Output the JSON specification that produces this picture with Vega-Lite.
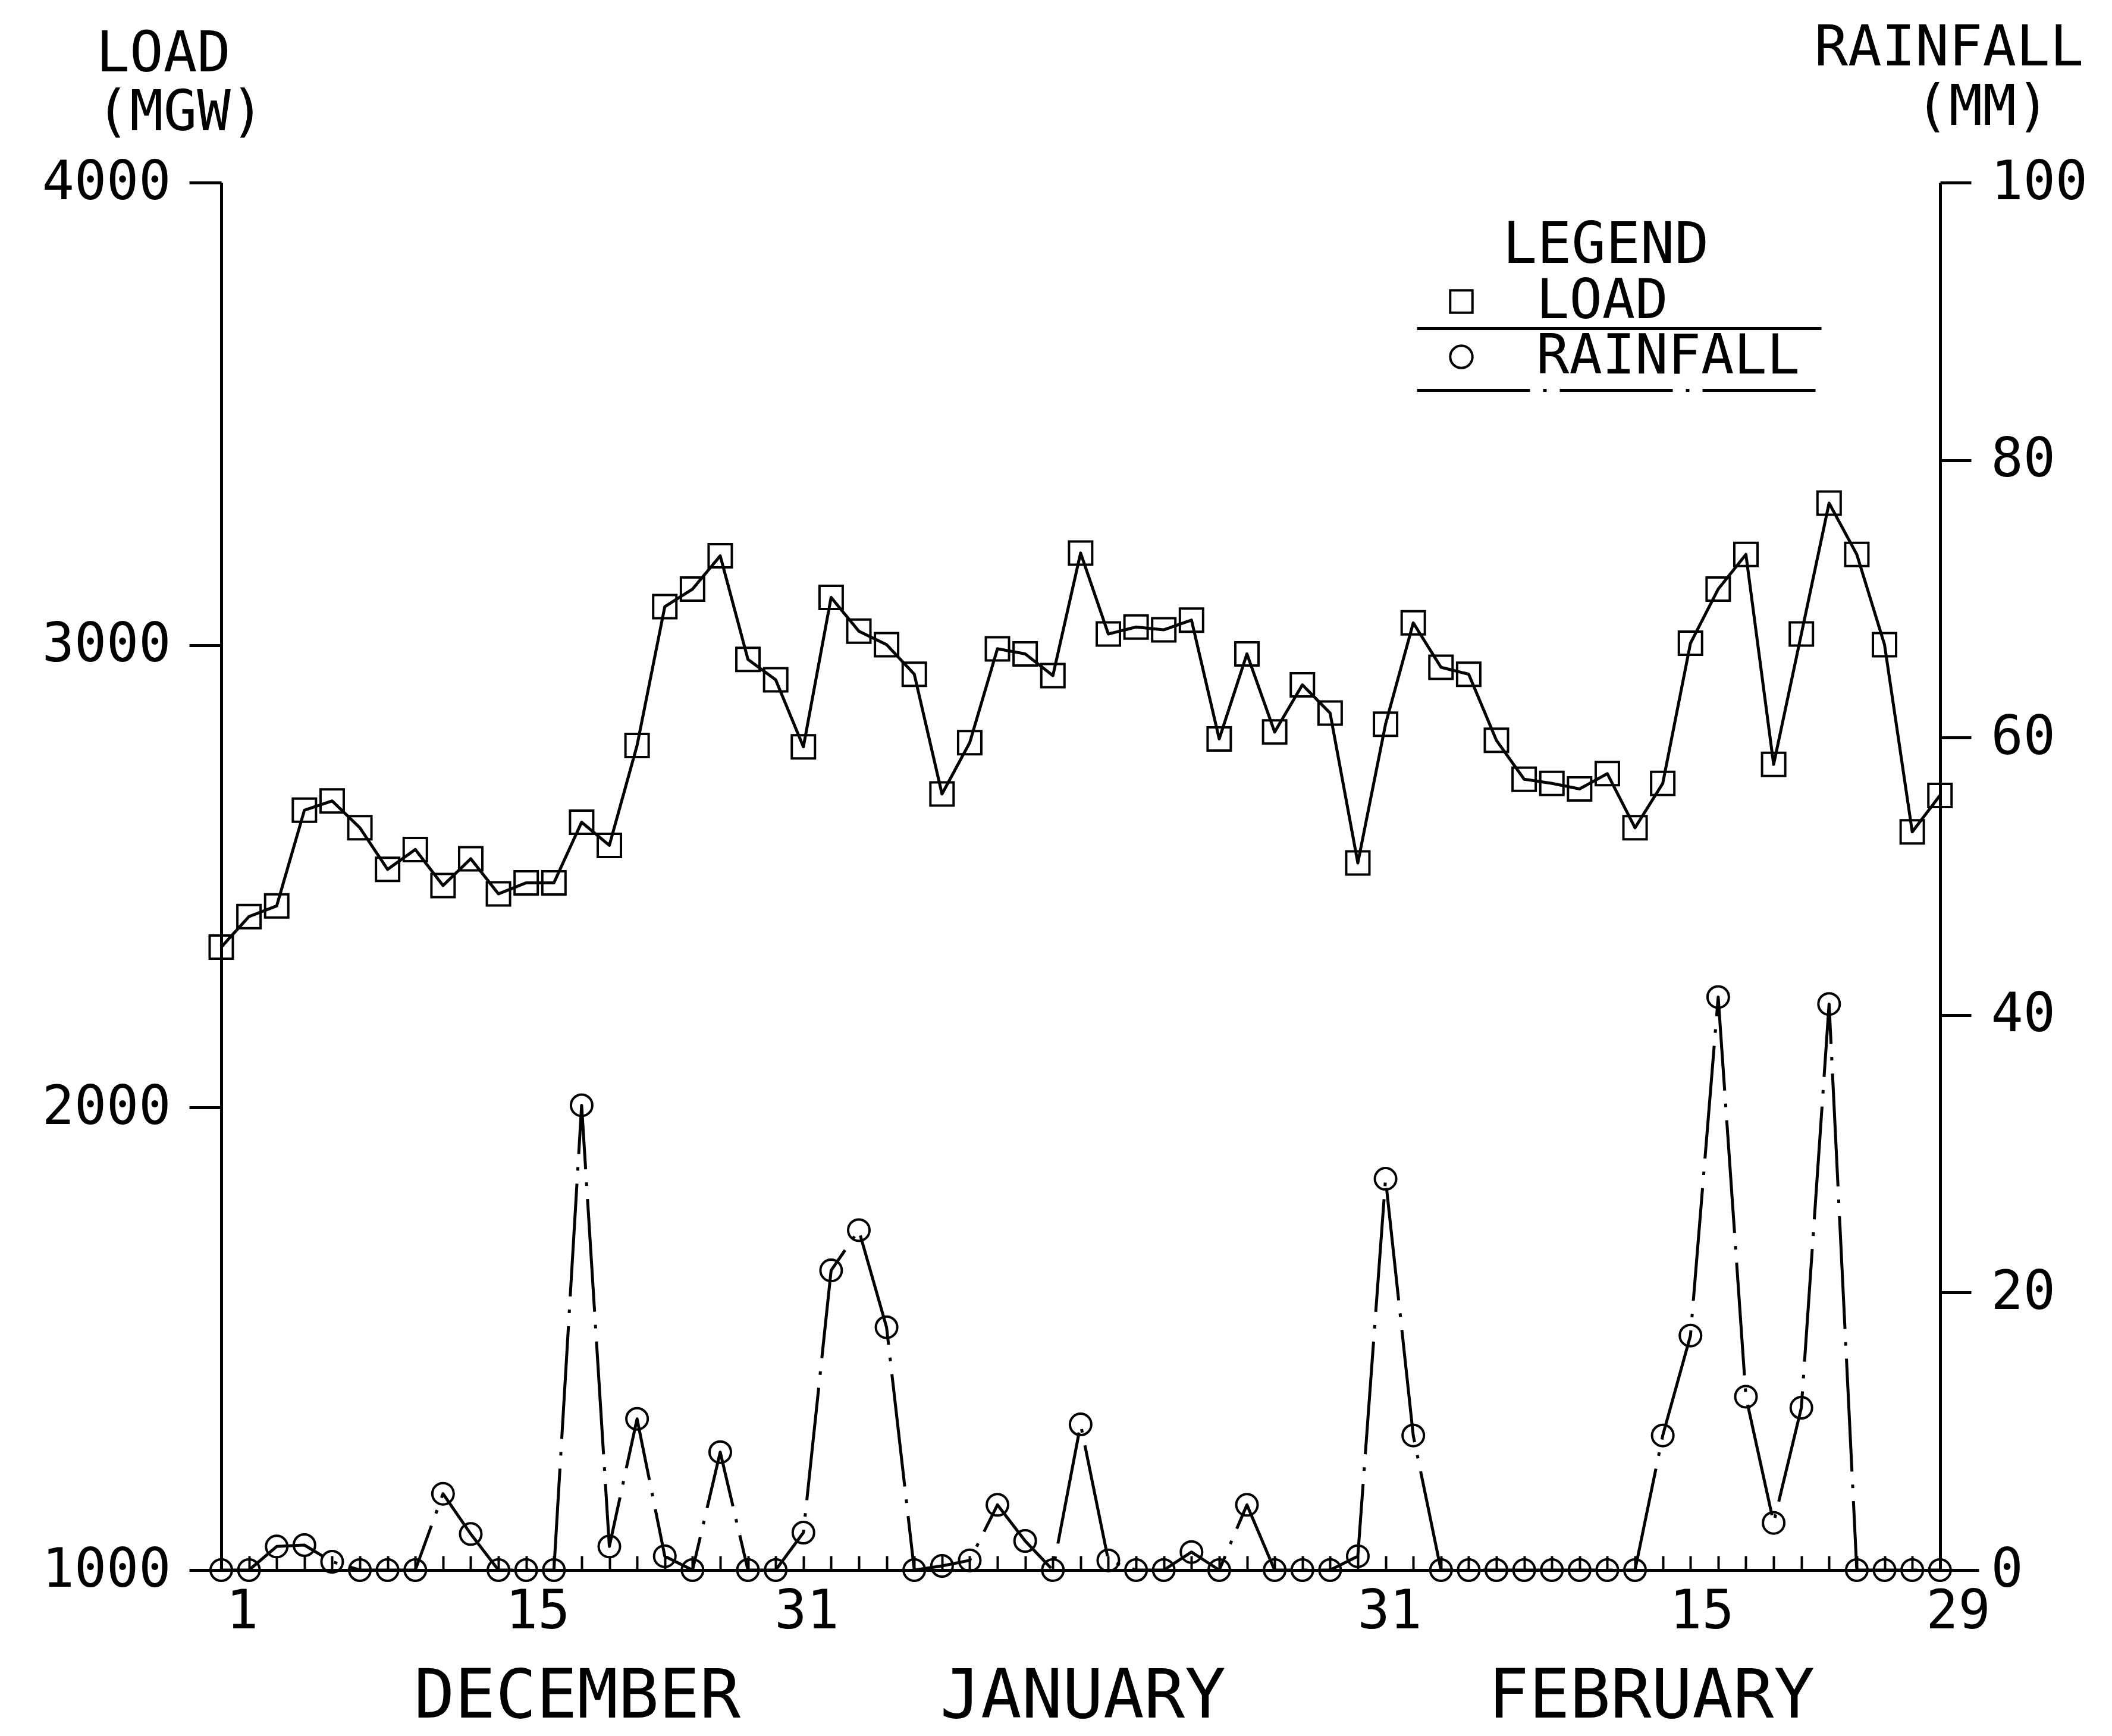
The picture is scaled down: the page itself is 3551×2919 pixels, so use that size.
{
  "$schema": "https://vega.github.io/schema/vega-lite/v6.json",
  "autosize": {"type": "none"},
  "padding": {"left": 372, "top": 307, "right": 224, "bottom": 279},
  "width": 2955,
  "height": 2333,
  "background": "white",
  "data": {"values": [
    {"day": 0, "load": 2347, "rain": 0},
    {"day": 1, "load": 2413, "rain": 0},
    {"day": 2, "load": 2436, "rain": 1.7},
    {"day": 3, "load": 2643, "rain": 1.8},
    {"day": 4, "load": 2663, "rain": 0.6},
    {"day": 5, "load": 2605, "rain": 0},
    {"day": 6, "load": 2515, "rain": 0},
    {"day": 7, "load": 2558, "rain": 0},
    {"day": 8, "load": 2480, "rain": 5.5},
    {"day": 9, "load": 2538, "rain": 2.6},
    {"day": 10, "load": 2462, "rain": 0},
    {"day": 11, "load": 2486, "rain": 0},
    {"day": 12, "load": 2486, "rain": 0},
    {"day": 13, "load": 2617, "rain": 33.5},
    {"day": 14, "load": 2567, "rain": 1.7},
    {"day": 15, "load": 2783, "rain": 10.9},
    {"day": 16, "load": 3083, "rain": 1.0},
    {"day": 17, "load": 3121, "rain": 0},
    {"day": 18, "load": 3193, "rain": 8.5},
    {"day": 19, "load": 2969, "rain": 0},
    {"day": 20, "load": 2925, "rain": 0},
    {"day": 21, "load": 2780, "rain": 2.7},
    {"day": 22, "load": 3103, "rain": 21.6},
    {"day": 23, "load": 3030, "rain": 24.5},
    {"day": 24, "load": 3001, "rain": 17.5},
    {"day": 25, "load": 2937, "rain": 0},
    {"day": 26, "load": 2678, "rain": 0.3},
    {"day": 27, "load": 2789, "rain": 0.7},
    {"day": 28, "load": 2992, "rain": 4.7},
    {"day": 29, "load": 2981, "rain": 2.1},
    {"day": 30, "load": 2934, "rain": 0},
    {"day": 31, "load": 3199, "rain": 10.5},
    {"day": 32, "load": 3024, "rain": 0.7},
    {"day": 33, "load": 3039, "rain": 0},
    {"day": 34, "load": 3033, "rain": 0},
    {"day": 35, "load": 3054, "rain": 1.3},
    {"day": 36, "load": 2797, "rain": 0},
    {"day": 37, "load": 2981, "rain": 4.7},
    {"day": 38, "load": 2812, "rain": 0},
    {"day": 39, "load": 2914, "rain": 0},
    {"day": 40, "load": 2853, "rain": 0},
    {"day": 41, "load": 2529, "rain": 1.0},
    {"day": 42, "load": 2829, "rain": 28.2},
    {"day": 43, "load": 3048, "rain": 9.7},
    {"day": 44, "load": 2952, "rain": 0},
    {"day": 45, "load": 2937, "rain": 0},
    {"day": 46, "load": 2794, "rain": 0},
    {"day": 47, "load": 2710, "rain": 0},
    {"day": 48, "load": 2701, "rain": 0},
    {"day": 49, "load": 2689, "rain": 0},
    {"day": 50, "load": 2722, "rain": 0},
    {"day": 51, "load": 2605, "rain": 0},
    {"day": 52, "load": 2701, "rain": 9.7},
    {"day": 53, "load": 3004, "rain": 16.9},
    {"day": 54, "load": 3121, "rain": 41.3},
    {"day": 55, "load": 3196, "rain": 12.5},
    {"day": 56, "load": 2742, "rain": 3.4},
    {"day": 57, "load": 3024, "rain": 11.7},
    {"day": 58, "load": 3307, "rain": 40.8},
    {"day": 59, "load": 3196, "rain": 0},
    {"day": 60, "load": 3001, "rain": 0},
    {"day": 61, "load": 2596, "rain": 0},
    {"day": 62, "load": 2675, "rain": 0}
  ]},
  "layer": [
    {
      "mark": {"type": "line", "color": "black", "strokeWidth": 5, "strokeJoin": "round"},
      "encoding": {
        "x": {"field": "day", "type": "quantitative",
          "scale": {"domain": [0, 63.4], "nice": false, "zero": false},
          "axis": {"orient": "bottom", "values": [0,1,2,3,4,5,6,7,8,9,10,11,12,13,14,15,16,17,18,19,20,21,22,23,24,25,26,27,28,29,30,31,32,33,34,35,36,37,38,39,40,41,42,43,44,45,46,47,48,49,50,51,52,53,54,55,56,57,58,59,60,61,62],
            "labels": false, "ticks": true, "tickSize": -24, "tickWidth": 4, "domain": true, "domainWidth": 5, "title": null}},
        "y": {"field": "load", "type": "quantitative",
          "scale": {"domain": [1000, 4000], "nice": false, "zero": false},
          "axis": {"orient": "left", "values": [1000, 2000, 3000, 4000], "format": "d", "tickSize": 54, "tickWidth": 5, "domainWidth": 5, "labelFontSize": 90, "labelPadding": 31,
            "title": ["LOAD", "(MGW)"], "titleAngle": 0, "titleAlign": "left", "titleBaseline": "alphabetic", "titleX": -211, "titleY": -188, "titleFontSize": 94, "titleLineHeight": 99}},
        "strokeDash": {"datum": "LOAD", "type": "nominal",
          "scale": {"domain": ["RAINFALL", "LOAD"], "range": [[190, 22, 6, 22], [1, 0]]},
          "legend": {"orient": "none", "legendX": 2331, "legendY": 226, "title": null, "values": ["LOAD", "RAINFALL"], "symbolType": "M-20,0H20", "symbolSize": 1156, "symbolStrokeWidth": 5, "symbolStrokeColor": "black", "symbolFillColor": "transparent", "labelExpr": "''", "labelFontSize": 1, "rowPadding": 74, "padding": 0}}
      }
    },
    {
      "mark": {"type": "point", "color": "black", "filled": false, "strokeWidth": 4, "size": 1521, "opacity": 1},
      "encoding": {
        "x": {"field": "day", "type": "quantitative",
          "scale": {"domain": [0, 63.4], "nice": false, "zero": false},
          "axis": {"orient": "bottom", "values": [12.83, 31.07, 51.58], "labelExpr": "datum.value < 20 ? 'DECEMBER' : datum.value < 40 ? 'JANUARY' : 'FEBRUARY'",
            "ticks": false, "tickSize": 0, "domain": false, "labelFontSize": 114, "labelBaseline": "alphabetic", "labelPadding": 247, "labelAlign": "center", "title": null}},
        "y": {"field": "load", "type": "quantitative",
          "scale": {"domain": [1000, 4000], "nice": false, "zero": false}, "axis": null},
        "shape": {"datum": "LOAD", "type": "nominal",
          "scale": {"domain": ["LOAD", "RAINFALL"], "range": ["square", "circle"]},
          "legend": {"orient": "none", "legendX": 2039, "legendY": 59, "title": "\u200b\u00a0\u00a0LEGEND", "titleFontSize": 96, "titleFontWeight": "normal", "titleColor": "black", "titleAnchor": "start", "titleAlign": "left", "titlePadding": -1,
            "labelFontSize": 92, "labelColor": "black", "labelOffset": 80, "symbolSize": 1400, "symbolStrokeWidth": 4, "symbolStrokeColor": "black", "symbolFillColor": "transparent", "rowPadding": 1, "padding": 0}}
      }
    },
    {
      "mark": {"type": "line", "color": "black", "strokeWidth": 5, "strokeJoin": "round"},
      "encoding": {
        "x": {"field": "day", "type": "quantitative",
          "scale": {"domain": [0, 63.4], "nice": false, "zero": false},
          "axis": {"orient": "bottom", "values": [0.75, 11.41, 21.11, 42.14, 53.4, 62.65],
            "labelExpr": "datum.value < 5 ? '1' : datum.value < 15 ? '15' : datum.value < 30 ? '31' : datum.value < 48 ? '31' : datum.value < 58 ? '15' : '29'",
            "ticks": false, "tickSize": 0, "domain": false, "labelFontSize": 90, "labelBaseline": "alphabetic", "labelPadding": 97, "labelAlign": "center", "title": null}},
        "y": {"field": "rain", "type": "quantitative",
          "scale": {"domain": [0, 100], "nice": false, "zero": false},
          "axis": {"orient": "right", "offset": -65, "values": [0, 20, 40, 60, 80, 100], "format": "d", "tickSize": 52, "tickWidth": 5, "domainWidth": 5, "labelFontSize": 90, "labelPadding": 33,
            "title": ["RAINFALL", "\u200b\u00a0\u00a0\u00a0(MM)"], "titleAngle": 0, "titleAlign": "left", "titleBaseline": "alphabetic", "titleX": -212, "titleY": -198, "titleFontSize": 94, "titleLineHeight": 100}},
        "strokeDash": {"datum": "RAINFALL", "type": "nominal",
          "scale": {"domain": ["RAINFALL", "LOAD"], "range": [[190, 22, 6, 22], [1, 0]]},
          "legend": {"orient": "none", "legendX": 2331, "legendY": 226, "title": null, "values": ["LOAD", "RAINFALL"], "symbolType": "M-20,0H20", "symbolSize": 1156, "symbolStrokeWidth": 5, "symbolStrokeColor": "black", "symbolFillColor": "transparent", "labelExpr": "''", "labelFontSize": 1, "rowPadding": 74, "padding": 0}}
      }
    },
    {
      "mark": {"type": "point", "color": "black", "filled": false, "strokeWidth": 4, "size": 1296, "opacity": 1},
      "encoding": {
        "x": {"field": "day", "type": "quantitative",
          "scale": {"domain": [0, 63.4], "nice": false, "zero": false}, "axis": null},
        "y": {"field": "rain", "type": "quantitative",
          "scale": {"domain": [0, 100], "nice": false, "zero": false}, "axis": null},
        "shape": {"datum": "RAINFALL", "type": "nominal",
          "scale": {"domain": ["LOAD", "RAINFALL"], "range": ["square", "circle"]},
          "legend": {"orient": "none", "legendX": 2039, "legendY": 59, "title": "\u200b\u00a0\u00a0LEGEND", "titleFontSize": 96, "titleFontWeight": "normal", "titleColor": "black", "titleAnchor": "start", "titleAlign": "left", "titlePadding": -1,
            "labelFontSize": 92, "labelColor": "black", "labelOffset": 80, "symbolSize": 1400, "symbolStrokeWidth": 4, "symbolStrokeColor": "black", "symbolFillColor": "transparent", "rowPadding": 1, "padding": 0}}
      }
    }
  ],
  "resolve": {"scale": {"y": "independent"}, "axis": {"x": "independent", "y": "independent"}},
  "config": {
    "view": {"stroke": null},
    "axis": {"labelFont": "DejaVu Sans Mono", "titleFont": "DejaVu Sans Mono", "labelColor": "black", "titleColor": "black", "domainColor": "black", "tickColor": "black", "grid": false, "titleFontWeight": "normal", "labelLimit": 0, "titleLimit": 0, "labelFlush": false, "labelOverlap": false},
    "legend": {"labelFont": "DejaVu Sans Mono", "titleFont": "DejaVu Sans Mono", "labelLimit": 0, "titleLimit": 0}
  }
}
